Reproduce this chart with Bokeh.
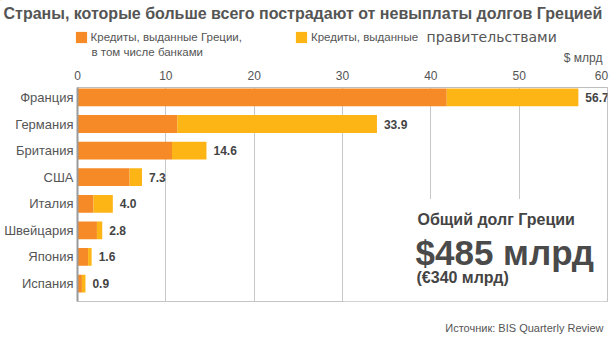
from bokeh.plotting import figure
from bokeh.layouts import column
from bokeh.models import (Range1d, FixedTicker, Label, BoxAnnotation, Legend, LegendItem,
                          ColumnDataSource)
from bokeh.core.properties import value
from bokeh.embed import file_html
from bokeh.resources import INLINE

# ---- data ----
countries = ["Франция", "Германия", "Британия", "США", "Италия", "Швейцария", "Япония", "Испания"]
bank_loans = [41.8, 11.3, 10.7, 5.9, 1.8, 2.2, 1.2, 0.5]
totals = [56.7, 33.9, 14.6, 7.3, 4.0, 2.8, 1.6, 0.9]
total_labels = ["56.7", "33.9", "14.6", "7.3", "4.0", "2.8", "1.6", "0.9"]
x_ticks = [0, 10, 20, 30, 40, 50, 60]

title_text = "Страны, которые больше всего пострадают от невыплаты долгов Грецией"
legend_bank_1 = "Кредиты, выданные Греции,"
legend_bank_2 = "в том числе банками"
legend_gov_a = "Кредиты, выданные"
legend_gov_b = "правительствами"
unit_text = "$ млрд"
box_title = "Общий долг Греции"
box_value = "$485 млрд"
box_euro = "(€340 млрд)"
source_text = "Источник: BIS Quarterly Review"

ORANGE = "#F58A26"
YELLOW = "#FDB516"
TEXT = "#555555"
FONT = "Liberation Sans"
W = 611
H_HEAD, H_MAIN = 65, 239
H_FOOT = 346 - H_HEAD - H_MAIN

idx = list(range(len(countries)))
src = ColumnDataSource(dict(
    y=idx, bank=bank_loans, total=totals, lbl=total_labels, zero=[0] * len(idx)))

# geometry of the main frame (canvas pixels)
FL, FR, FT, FB = 77, 607, 86, 301
XMAX = 60.0
ROW = 26.71
Y_TOP = -0.374
Y_BOT = Y_TOP + (FB - FT) / ROW


def X(px):
    return (px - FL) * XMAX / (FR - FL)


def Y(py):
    return (py - FT) / ROW + Y_TOP


def blank(height):
    f = figure(width=W, height=height, output_backend="svg", toolbar_location=None,
               x_range=Range1d(0, W), y_range=Range1d(height, 0),
               x_axis_type=None, y_axis_type=None,
               min_border=0, outline_line_color=None)
    f.grid.visible = False
    f.background_fill_color = "white"
    f.border_fill_color = "white"
    f.frame_align = False
    return f


def base(py, size):
    # Label baseline correction (measured): text sits ~0.3 em lower than asked
    return py - 0.3 * size


def lab(fig, text, x, y, size, bold=False, color=TEXT, align="left", font=FONT, conv=None):
    yy = base(y, size)
    if conv is not None:
        x, yy = conv[0](x), conv[1](yy)
    fig.add_layout(Label(x=x, y=yy, text=text, text_font=font,
                         text_font_size=f"{size}px", text_color=color,
                         text_font_style="bold" if bold else "normal",
                         text_align=align, text_baseline="alphabetic"))


# ---- header: title + legend + unit ----
head = blank(H_HEAD)
lab(head, title_text, 3, 18, 16, bold=True)
lab(head, unit_text, 602, 61, 12, align="right")
lab(head, legend_bank_2, 91, 54.5, 11.5)
lab(head, legend_gov_b, 426, 41, 14, font="DejaVu Sans")
dummy = ColumnDataSource(dict(y=[-1000], l=[0], r=[1]))
lr1 = head.hbar(y="y", left="l", right="r", height=1, source=dummy,
                fill_color=ORANGE, line_color=None)
lr2 = head.hbar(y="y", left="l", right="r", height=1, source=dummy,
                fill_color=YELLOW, line_color=None)
legend = Legend(items=[LegendItem(label=legend_bank_1, renderers=[lr1]),
                       LegendItem(label=legend_gov_a, renderers=[lr2])],
                orientation="horizontal", location=(73.6, 21),
                glyph_width=14, glyph_height=14, label_standoff=3, spacing=52,
                padding=0, margin=0, border_line_color=None,
                background_fill_alpha=0,
                label_text_font=FONT, label_text_font_size="11.5px",
                label_text_color=TEXT)
head.add_layout(legend)

# ---- main chart ----
p = figure(width=W, height=H_MAIN, output_backend="svg", toolbar_location=None,
           x_range=Range1d(0, XMAX), y_range=Range1d(Y_BOT, Y_TOP),
           x_axis_location="above",
           min_border_left=FL, min_border_right=W - FR,
           min_border_top=FT - H_HEAD, min_border_bottom=H_HEAD + H_MAIN - FB)
p.background_fill_color = "white"
p.border_fill_color = "white"
p.outline_line_color = "#c4c4c4"
p.outline_line_width = 1
p.frame_align = False

p.hbar(y="y", left="zero", right="bank", height=0.67, source=src,
       fill_color=ORANGE, line_color=None)
p.hbar(y="y", left="bank", right="total", height=0.67, source=src,
       fill_color=YELLOW, line_color=None)
p.text(x="total", y="y", text="lbl", source=src, x_offset=7,
       text_baseline="middle", text_align="left",
       text_font=value(FONT), text_font_size="12px", text_font_style="bold",
       text_color="#444444")

xa = p.xaxis[0]
xa.ticker = FixedTicker(ticks=x_ticks)
xa.major_label_overrides = {60: "60\u00a0"}
xa.axis_line_color = "#bdbdbd"
xa.major_tick_out = 0
xa.major_tick_in = 0
xa.minor_tick_line_color = None
xa.major_label_text_font = FONT
xa.major_label_text_font_size = "12px"
xa.major_label_text_color = TEXT
xa.major_label_standoff = 5
xa.axis_label_standoff = 0

ya = p.yaxis[0]
ya.ticker = FixedTicker(ticks=idx)
ya.major_label_overrides = {i: c for i, c in zip(idx, countries)}
ya.axis_line_color = "#9a9a9a"
ya.axis_line_width = 2
ya.major_tick_line_color = None
ya.major_tick_out = 0
ya.major_tick_in = 0
ya.minor_tick_line_color = None
ya.major_label_text_font = FONT
ya.major_label_text_font_size = "13px"
ya.major_label_text_color = TEXT
ya.major_label_standoff = 4
ya.axis_label_standoff = 0

p.xgrid.ticker = FixedTicker(ticks=x_ticks[1:])
p.xgrid.grid_line_color = "#c8c8c8"
p.ygrid.grid_line_color = None

p.add_layout(BoxAnnotation(left=30.15, right=59.85, top=Y(198), bottom=Y_BOT,
                           fill_color="white", fill_alpha=1, line_color=None))

conv = (X, Y)
lab(p, box_title, 417, 223.5, 16, bold=True, color="#444444", conv=conv)
lab(p, box_value, 415, 262, 35, bold=True, color="#4a4a4a", conv=conv)
lab(p, box_euro, 416, 282, 16, bold=True, color="#444444", conv=conv)

# ---- footer: source ----
foot = blank(H_FOOT)
lab(foot, source_text, 603, 331 - H_HEAD - H_MAIN, 11, align="right")

layout = column(head, p, foot, spacing=0)
open("out.html", "w").write(file_html(layout, INLINE))
